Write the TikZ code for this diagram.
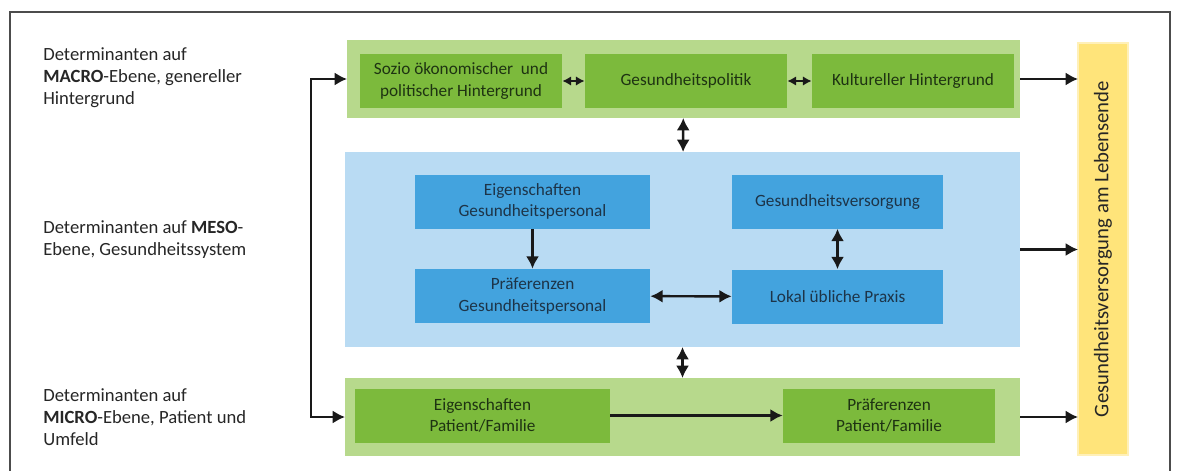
\documentclass[tikz,border=0pt]{standalone}
\usepackage{fontspec}
\setmainfont{Carlito}
\usepackage{tikz}
\usetikzlibrary{arrows.meta}
\definecolor{bandgreen}{HTML}{B7D98C}
\definecolor{boxgreen}{HTML}{7CBA3C}
\definecolor{bandblue}{HTML}{B9DBF3}
\definecolor{boxblue}{HTML}{43A3DE}
\definecolor{baryellow}{HTML}{FFE47A}
\definecolor{barlight}{HTML}{FFF0B8}
\definecolor{txtgreen}{HTML}{1E3312}
\definecolor{txtblue}{HTML}{1D3448}
\tikzset{band/.style={rectangle, inner sep=0pt, outer sep=0pt},
  gbox/.style={rectangle, fill=boxgreen, text=txtgreen, align=center, inner sep=0pt,
    font=\fontsize{9.8}{12.2}\selectfont},
  bbox/.style={rectangle, fill=boxblue, text=txtblue, align=center, inner sep=0pt,
    font=\fontsize{9.8}{12.2}\selectfont},
  levellabel/.style={anchor=west, align=left, inner sep=0pt, text=black!85,
    font=\fontsize{10.6}{12.6}\selectfont},
  conn/.style={line width=1.4pt, black!90, >={Latex[length=7pt,width=7.5pt]}},
  smallconn/.style={line width=1.3pt, black!90, >={Latex[length=5pt,width=5.5pt]}}}

\begin{document}
\begin{tikzpicture}[x=0.02cm,y=-0.02cm]
  \useasboundingbox (0,0) rectangle (1179,470);
  \draw[black!70, line width=0.6pt] (10,490) -- (10,12) -- (1170,12) -- (1170,490);
  % bands
  \node[band, fill=bandgreen, minimum width=673*0.02cm, minimum height=78*0.02cm] (macro) at (683.5,79) {};
  \node[band, fill=bandblue, minimum width=675*0.02cm, minimum height=195*0.02cm] (meso) at (682.5,249.5) {};
  \node[band, fill=bandgreen, minimum width=675*0.02cm, minimum height=78*0.02cm] (micro) at (682.5,417) {};
  \node[band, fill=baryellow, draw=barlight, line width=1.5pt, minimum width=412*0.02cm, minimum height=50*0.02cm,
    rotate=90, font=\fontsize{11.8}{13}\selectfont, text=black!85] (outcome) at (1103,249)
    {Gesundheitsversorgung am Lebensende};
  % boxes
  \foreach \lab/\st/\x/\y/\w/\txt in {
    sozio/gbox/461/81/202/{Sozio ökonomischer\ \ und\\politischer Hintergrund},
    politik/gbox/686/81/202/{Gesundheitspolitik},
    kultur/gbox/913/81/202/{Kultureller Hintergrund},
    eigGP/bbox/532.5/201.5/235/{Eigenschaften\\Gesundheitspersonal},
    prefGP/bbox/532.5/296/235/{Präferenzen\\Gesundheitspersonal},
    versorg/bbox/837.5/201.5/211/{Gesundheitsversorgung},
    praxis/bbox/837.5/296.5/211/{Lokal übliche Praxis},
    eigPF/gbox/482.5/415.5/255/{Eigenschaften\\Patient/Familie},
    prefPF/gbox/889/415.5/212/{Präferenzen\\Patient/Familie}%
  } {
    \node[\st, minimum width=\w*0.02cm, minimum height=54*0.02cm] (\lab) at (\x,\y) {\txt};
  }
  % level labels
  \node[levellabel] (lmacro) at (43,78) {Determinanten auf\\\textbf{MACRO}-Ebene, genereller\\Hintergrund};
  \node[levellabel] (lmeso) at (43,240) {Determinanten auf \textbf{MESO}-\\Ebene, Gesundheitssystem};
  \node[levellabel] (lmicro) at (43,417) {Determinanten auf\\\textbf{MICRO}-Ebene, Patient und\\Umfeld};
  % connectors
  \coordinate (looptop) at (311,79);
  \coordinate (loopbot) at (311,417);
  \draw[conn, <->] (macro.west) -- (looptop) -- (loopbot) -- (micro.west);
  \foreach \u/\v in {
    sozio/politik,
    politik/kultur%
  }{
    \draw[smallconn, <->] (\u) edge (\v);
  }
  \foreach \u/\v in {
    prefGP/praxis,
    versorg/praxis,
    macro/meso,
    meso/micro%
  }{
    \draw[conn, <->] (\u) edge (\v);
  }
  \draw[conn, ->] (eigGP) -- (prefGP);
  \draw[conn, ->] (eigPF) -- (prefPF);
  \foreach \b in {macro, meso, micro}{
    \draw[conn, ->] (\b.east) -- (\b.east -| outcome.north);
  }
\end{tikzpicture}
\end{document}
